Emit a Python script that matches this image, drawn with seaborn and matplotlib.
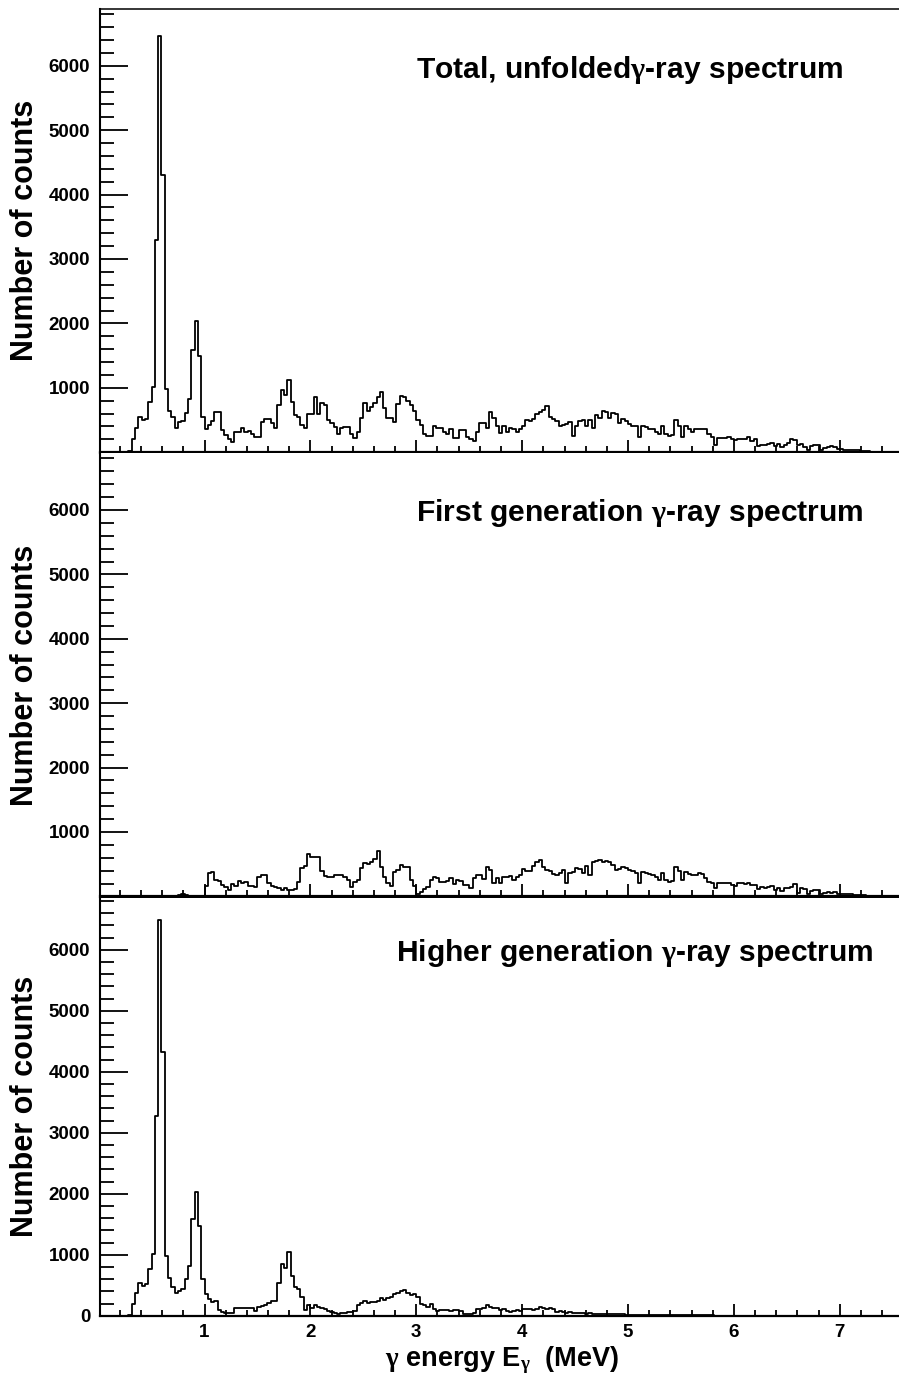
# -*- coding: utf-8 -*-
# Gamma-ray spectra: total unfolded, first generation and higher generation

import numpy as np
import pandas as pd
import matplotlib
matplotlib.use('Agg')
import matplotlib.pyplot as plt
from matplotlib.ticker import MultipleLocator, FixedLocator
import seaborn as sns

# channel width of the spectra (MeV)
bin_width = 0.03125

# counts per channel, channel 0 starts at 0 MeV
total_counts = [
    0, 0, 0, 0, 0, 0, 0, 0, 0, 15,
    200, 380, 545, 500, 510, 780, 1020, 3300, 6470, 4310,
    980, 640, 540, 380, 470, 480, 610, 825, 1590, 2030,
    1495, 550, 355, 420, 480, 630, 630, 345, 265, 200,
    160, 320, 320, 370, 320, 330, 277, 240, 240, 470,
    510, 520, 450, 380, 730, 965, 890, 1120, 785, 575,
    550, 420, 370, 600, 600, 850, 600, 760, 740, 500,
    450, 395, 290, 370, 385, 385, 290, 215, 320, 525,
    765, 640, 700, 765, 850, 930, 690, 535, 535, 470,
    755, 870, 860, 800, 740, 640, 500, 420, 280, 255,
    255, 400, 380, 380, 315, 280, 357, 215, 215, 347,
    345, 230, 204, 168, 306, 460, 460, 380, 630, 535,
    400, 296, 400, 320, 380, 357, 306, 367, 408, 500,
    485, 510, 586, 622, 653, 724, 550, 520, 485, 408,
    418, 433, 470, 245, 408, 485, 500, 400, 500, 380,
    571, 535, 637, 622, 535, 602, 586, 460, 510, 490,
    433, 400, 400, 230, 400, 390, 367, 357, 306, 280,
    400, 280, 245, 265, 495, 400, 230, 408, 367, 306,
    367, 367, 357, 367, 280, 230, 110, 220, 215, 215,
    230, 204, 190, 210, 200, 205, 230, 180, 205, 100,
    110, 110, 125, 143, 100, 125, 77, 110, 143, 204,
    190, 112, 125, 77, 40, 90, 112, 112, 40, 60,
    77, 90, 77, 51, 51, 35, 35, 30, 30, 30,
    20, 20, 15, 10, 5, 0,
]

first_gen_counts = [
    0, 0, 0, 0, 0, 0, 0, 0, 0, 0,
    0, 0, 0, 0, 0, 0, 0, 0, 0, 0,
    0, 0, 0, 0, 20, 30, 15, 0, 0, 0,
    0, 0, 160, 370, 385, 255, 240, 180, 150, 100,
    195, 160, 245, 205, 230, 160, 160, 152, 307, 333,
    333, 205, 160, 152, 126, 100, 126, 100, 100, 110,
    230, 437, 473, 660, 618, 618, 607, 400, 318, 297,
    297, 333, 333, 333, 300, 255, 142, 220, 256, 437,
    514, 500, 540, 585, 705, 463, 307, 204, 163, 385,
    411, 488, 463, 460, 256, 163, 34, 75, 111, 152,
    256, 297, 282, 230, 225, 245, 292, 194, 256, 240,
    178, 170, 127, 282, 333, 340, 266, 463, 411, 215,
    282, 204, 307, 307, 315, 256, 297, 333, 421, 400,
    400, 473, 540, 566, 463, 411, 400, 349, 333, 370,
    411, 204, 359, 385, 437, 420, 359, 473, 333, 540,
    556, 566, 540, 550, 540, 488, 411, 420, 463, 437,
    411, 400, 370, 215, 385, 370, 349, 333, 297, 256,
    370, 256, 230, 245, 463, 400, 256, 385, 349, 333,
    333, 359, 350, 282, 230, 215, 127, 204, 204, 204,
    204, 178, 163, 204, 215, 194, 204, 178, 180, 111,
    142, 127, 142, 163, 100, 127, 90, 127, 127, 152,
    194, 60, 127, 111, 39, 90, 100, 100, 39, 60,
    75, 60, 75, 39, 39, 34, 34, 30, 25, 23,
    23, 15, 13, 10, 5, 0,
]

higher_gen_counts = [
    0, 0, 0, 0, 0, 0, 0, 0, 0, 15,
    190, 370, 530, 480, 520, 770, 1017, 3280, 6480, 4320,
    973, 626, 467, 368, 412, 434, 599, 819, 1588, 2028,
    1478, 600, 350, 270, 230, 240, 95, 55, 38, 50,
    50, 120, 130, 130, 125, 125, 120, 80, 145, 165,
    175, 205, 247, 247, 530, 852, 790, 1050, 643, 478,
    440, 313, 93, 176, 132, 176, 150, 132, 105, 77,
    60, 38, 28, 38, 50, 55, 65, 82, 176, 203,
    242, 215, 230, 230, 247, 286, 260, 290, 311, 350,
    377, 404, 420, 366, 333, 350, 311, 186, 170, 147,
    186, 104, 76, 87, 87, 93, 76, 90, 87, 76,
    33, 22, 33, 49, 115, 104, 131, 170, 147, 131,
    120, 93, 104, 76, 60, 76, 87, 76, 104, 115,
    104, 93, 115, 147, 131, 104, 131, 104, 60, 76,
    60, 49, 60, 49, 38, 49, 38, 33, 38, 27,
    33, 33, 33, 27, 27, 27, 22, 22, 22, 16,
    16, 16, 16, 16, 11, 11, 11, 11, 11, 11,
    11, 11, 11, 11, 11, 11, 5, 5, 5, 5,
    5, 5, 5, 5, 5, 5, 0,
]

spectra = [total_counts, first_gen_counts, higher_gen_counts]
panel_titles = ['Total, unfolded$\\mathrm{\\gamma}$-ray spectrum',
                'First generation $\\mathrm{\\gamma}$-ray spectrum',
                'Higher generation $\\mathrm{\\gamma}$-ray spectrum']
y_label = 'Number of counts'
x_label = '$\\mathrm{\\gamma}$ energy E$_{\\mathrm{\\gamma}}$  (MeV)'

sns.set_theme(style='white')
plt.rcParams['font.family'] = ['Liberation Sans', 'DejaVu Sans']
plt.rcParams['font.weight'] = 'bold'
plt.rcParams['mathtext.fontset'] = 'custom'
plt.rcParams['mathtext.rm'] = 'Liberation Serif'
plt.rcParams['mathtext.it'] = 'Liberation Serif:italic'
plt.rcParams['mathtext.bf'] = 'Liberation Serif:bold'
for key in ['text.color', 'axes.labelcolor', 'xtick.color', 'ytick.color',
            'axes.edgecolor']:
    plt.rcParams[key] = 'black'

W, H = 899, 1382
fig = plt.figure(figsize=(W / 100, H / 100), dpi=100)

# pad layout in pixels: frame top, frame bottom, y max, title left, title y
pads = [(9.3, 452.2, 6877, 416, 70),
        (453.5, 896.4, 6877, 416, 513),
        (898.0, 1315.7, 6848, 396, 953)]
x_left, x_right = 100, 899

for i, (counts, title, pad) in enumerate(zip(spectra, panel_titles, pads)):
    top, bottom, ymax, tx, ty = pad
    ax = fig.add_axes([x_left / W, 1 - bottom / H,
                       (x_right - x_left) / W, (bottom - top) / H])

    edges = np.arange(len(counts) + 1) * bin_width
    df = pd.DataFrame({'energy': edges[:-1] + bin_width / 2,
                       'counts': np.array(counts, dtype=float)})
    sns.histplot(data=df, x='energy', weights='counts', bins=list(edges),
                 element='step', fill=False, color='black', linewidth=1.3, ax=ax)

    ax.set_xlim(0.013, 7.559)
    ax.set_ylim(0, ymax)
    ax.set_xlabel('')
    ax.set_ylabel('')

    last = (i == 2)
    ax.xaxis.set_major_locator(MultipleLocator(1))
    ax.xaxis.set_minor_locator(MultipleLocator(0.2))
    if last:
        ax.yaxis.set_major_locator(FixedLocator([0, 1000, 2000, 3000, 4000, 5000, 6000]))
    else:
        ax.yaxis.set_major_locator(FixedLocator([1000, 2000, 3000, 4000, 5000, 6000]))
    ax.yaxis.set_minor_locator(MultipleLocator(200))

    ax.tick_params(axis='y', which='major', direction='in', length=20, width=1.3,
                   labelsize=13.5, pad=7, left=True, right=False, colors='black')
    ax.tick_params(axis='y', which='minor', direction='in', length=10, width=1.3,
                   left=True, right=False, colors='black')
    ax.tick_params(axis='x', which='major', direction='in', length=8.6, width=1.3,
                   labelsize=13.5, pad=6, bottom=True, top=False, labelbottom=last,
                   colors='black')
    ax.tick_params(axis='x', which='minor', direction='in', length=4.3, width=1.3,
                   bottom=True, top=False, colors='black')
    for lab in ax.get_xticklabels() + ax.get_yticklabels():
        lab.set_fontweight('bold')

    ax.spines['left'].set_linewidth(1.5)
    ax.spines['bottom'].set_linewidth(1.6 if last else 2.3)
    ax.spines['top'].set_visible(i == 0)
    ax.spines['top'].set_linewidth(1.1)
    ax.spines['right'].set_visible(False)
    for s in ax.spines.values():
        s.set_color('black')

    fig.text(25 / W, 1 - (top + bottom) / 2 / H, y_label, rotation=90,
             ha='center', va='center', fontsize=22, fontweight='bold', color='black')
    fig.text(tx / W, 1 - ty / H, title, ha='left', va='center',
             fontsize=21.6, fontweight='bold', color='black')

fig.text(502 / W, 1 - 1360 / H, x_label, ha='center', va='center',
         fontsize=19.5, fontweight='bold', color='black')

fig.savefig('out.png', dpi=100)
